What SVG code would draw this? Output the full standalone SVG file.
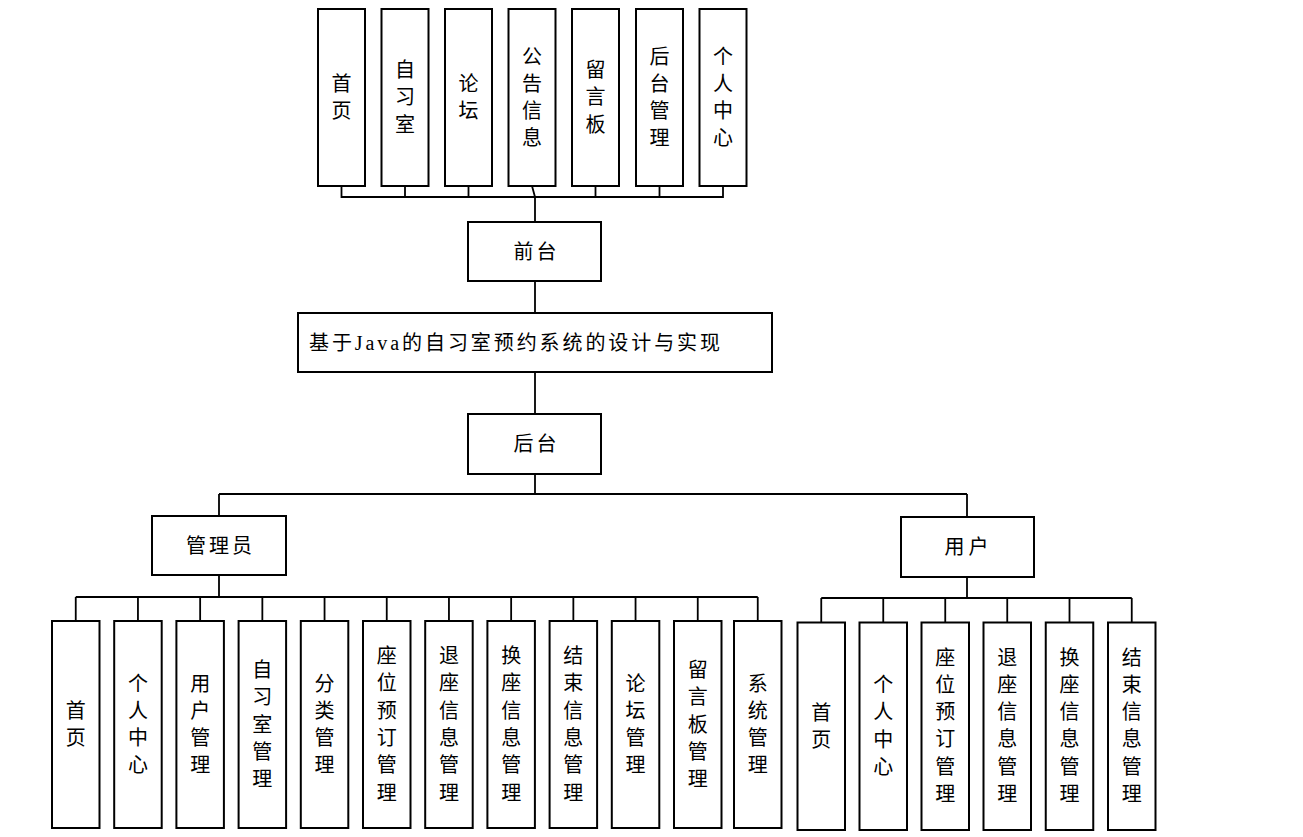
<svg xmlns="http://www.w3.org/2000/svg" width="1303" height="837" viewBox="0 0 1303 837">
<style>
rect{fill:#fff;stroke:#000;stroke-width:2}
.c line,.c polyline,.c path{stroke:#000;stroke-width:1.8;fill:none}
text{font-family:"Liberation Serif","Noto Sans CJK SC",serif;font-size:20px;fill:#000}
.v{text-anchor:middle}
.h{text-anchor:middle;letter-spacing:3px}
</style>
<rect width="1303" height="837" style="fill:#fff;stroke:none"/>
<g class="c" id="connectors">
<path d="M341.5,186V197H723V186M405,186V197M468.5,186V197M532,186L535,197M595.5,186V197M659.5,186V197M535,197V222"/>
<path d="M535,281V313M535,372V414M535,474V494M219,494H967M219,494V516M967,494V517"/>
<path d="M219,575V597M75.75,597H757.75M75.75,597V621M137.95,597V621M200.15,597V621M262.35,597V621M324.55,597V621M386.75,597V621M448.95,597V621M511.15,597V621M573.35,597V621M635.55,597V621M697.75,597V621M757.75,597V621"/>
<path d="M967,577V598M821.25,598H1131.75M821.25,598V622.5M883.25,598V622.5M945.25,598V622.5M1007.25,598V622.5M1069.5,598V622.5M1131.75,598V622.5"/>
</g>
<g id="top-1"><rect x="318" y="9" width="47" height="177"/><text class="v" x="341.5" y="91"><tspan x="341.5">首</tspan><tspan x="341.5" dy="27.3">页</tspan></text></g>
<g id="top-2"><rect x="381.5" y="9" width="47" height="177"/><text class="v" x="405" y="77"><tspan x="405">自</tspan><tspan x="405" dy="27.3">习</tspan><tspan x="405" dy="27.3">室</tspan></text></g>
<g id="top-3"><rect x="445" y="9" width="47" height="177"/><text class="v" x="468.5" y="91"><tspan x="468.5">论</tspan><tspan x="468.5" dy="27.3">坛</tspan></text></g>
<g id="top-4"><rect x="508.5" y="9" width="47" height="177"/><text class="v" x="532" y="63.5"><tspan x="532">公</tspan><tspan x="532" dy="27.3">告</tspan><tspan x="532" dy="27.3">信</tspan><tspan x="532" dy="27.3">息</tspan></text></g>
<g id="top-5"><rect x="572" y="9" width="47" height="177"/><text class="v" x="595.5" y="77"><tspan x="595.5">留</tspan><tspan x="595.5" dy="27.3">言</tspan><tspan x="595.5" dy="27.3">板</tspan></text></g>
<g id="top-6"><rect x="636" y="9" width="47" height="177"/><text class="v" x="659.5" y="63.5"><tspan x="659.5">后</tspan><tspan x="659.5" dy="27.3">台</tspan><tspan x="659.5" dy="27.3">管</tspan><tspan x="659.5" dy="27.3">理</tspan></text></g>
<g id="top-7"><rect x="699.5" y="9" width="47" height="177"/><text class="v" x="723" y="63.5"><tspan x="723">个</tspan><tspan x="723" dy="27.3">人</tspan><tspan x="723" dy="27.3">中</tspan><tspan x="723" dy="27.3">心</tspan></text></g>
<g id="qiantai"><rect x="468" y="222" width="133" height="59"/><text class="h" x="536.5" y="258.5">前台</text></g>
<g id="title"><rect x="298" y="313" width="474" height="59"/><text x="309" y="350" textLength="411">基于Java的自习室预约系统的设计与实现</text></g>
<g id="houtai"><rect x="468" y="414" width="133" height="60"/><text class="h" x="536.5" y="451">后台</text></g>
<g id="admin"><rect x="152" y="516" width="134" height="59"/><text class="h" x="220.5" y="552.5">管理员</text></g>
<g id="user"><rect x="901" y="517" width="133" height="60"/><text class="h" x="968.5" y="554" style="letter-spacing:4px">用户</text></g>
<g id="a1"><rect x="52" y="621" width="47.5" height="207"/><text class="v" y="718"><tspan x="75.75">首</tspan><tspan x="75.75" dy="27.3">页</tspan></text></g>
<g id="a2"><rect x="114.2" y="621" width="47.5" height="207"/><text class="v" y="690.5"><tspan x="137.95">个</tspan><tspan x="137.95" dy="27.3">人</tspan><tspan x="137.95" dy="27.3">中</tspan><tspan x="137.95" dy="27.3">心</tspan></text></g>
<g id="a3"><rect x="176.4" y="621" width="47.5" height="207"/><text class="v" y="690.5"><tspan x="200.15">用</tspan><tspan x="200.15" dy="27.3">户</tspan><tspan x="200.15" dy="27.3">管</tspan><tspan x="200.15" dy="27.3">理</tspan></text></g>
<g id="a4"><rect x="238.6" y="621" width="47.5" height="207"/><text class="v" y="677"><tspan x="262.35">自</tspan><tspan x="262.35" dy="27.3">习</tspan><tspan x="262.35" dy="27.3">室</tspan><tspan x="262.35" dy="27.3">管</tspan><tspan x="262.35" dy="27.3">理</tspan></text></g>
<g id="a5"><rect x="300.8" y="621" width="47.5" height="207"/><text class="v" y="690.5"><tspan x="324.55">分</tspan><tspan x="324.55" dy="27.3">类</tspan><tspan x="324.55" dy="27.3">管</tspan><tspan x="324.55" dy="27.3">理</tspan></text></g>
<g id="a6"><rect x="363" y="621" width="47.5" height="207"/><text class="v" y="663"><tspan x="386.75">座</tspan><tspan x="386.75" dy="27.3">位</tspan><tspan x="386.75" dy="27.3">预</tspan><tspan x="386.75" dy="27.3">订</tspan><tspan x="386.75" dy="27.3">管</tspan><tspan x="386.75" dy="27.3">理</tspan></text></g>
<g id="a7"><rect x="425.2" y="621" width="47.5" height="207"/><text class="v" y="663"><tspan x="448.95">退</tspan><tspan x="448.95" dy="27.3">座</tspan><tspan x="448.95" dy="27.3">信</tspan><tspan x="448.95" dy="27.3">息</tspan><tspan x="448.95" dy="27.3">管</tspan><tspan x="448.95" dy="27.3">理</tspan></text></g>
<g id="a8"><rect x="487.4" y="621" width="47.5" height="207"/><text class="v" y="663"><tspan x="511.15">换</tspan><tspan x="511.15" dy="27.3">座</tspan><tspan x="511.15" dy="27.3">信</tspan><tspan x="511.15" dy="27.3">息</tspan><tspan x="511.15" dy="27.3">管</tspan><tspan x="511.15" dy="27.3">理</tspan></text></g>
<g id="a9"><rect x="549.6" y="621" width="47.5" height="207"/><text class="v" y="663"><tspan x="573.35">结</tspan><tspan x="573.35" dy="27.3">束</tspan><tspan x="573.35" dy="27.3">信</tspan><tspan x="573.35" dy="27.3">息</tspan><tspan x="573.35" dy="27.3">管</tspan><tspan x="573.35" dy="27.3">理</tspan></text></g>
<g id="a10"><rect x="611.8" y="621" width="47.5" height="207"/><text class="v" y="690.5"><tspan x="635.55">论</tspan><tspan x="635.55" dy="27.3">坛</tspan><tspan x="635.55" dy="27.3">管</tspan><tspan x="635.55" dy="27.3">理</tspan></text></g>
<g id="a11"><rect x="674" y="621" width="47.5" height="207"/><text class="v" y="677"><tspan x="697.75">留</tspan><tspan x="697.75" dy="27.3">言</tspan><tspan x="697.75" dy="27.3">板</tspan><tspan x="697.75" dy="27.3">管</tspan><tspan x="697.75" dy="27.3">理</tspan></text></g>
<g id="a12"><rect x="734" y="621" width="47.5" height="207"/><text class="v" y="690.5"><tspan x="757.75">系</tspan><tspan x="757.75" dy="27.3">统</tspan><tspan x="757.75" dy="27.3">管</tspan><tspan x="757.75" dy="27.3">理</tspan></text></g>
<g id="u1"><rect x="797.5" y="622.5" width="47.5" height="207.5"/><text class="v" y="719.5"><tspan x="821.25">首</tspan><tspan x="821.25" dy="27.3">页</tspan></text></g>
<g id="u2"><rect x="859.5" y="622.5" width="47.5" height="207.5"/><text class="v" y="692"><tspan x="883.25">个</tspan><tspan x="883.25" dy="27.3">人</tspan><tspan x="883.25" dy="27.3">中</tspan><tspan x="883.25" dy="27.3">心</tspan></text></g>
<g id="u3"><rect x="921.5" y="622.5" width="47.5" height="207.5"/><text class="v" y="664.5"><tspan x="945.25">座</tspan><tspan x="945.25" dy="27.3">位</tspan><tspan x="945.25" dy="27.3">预</tspan><tspan x="945.25" dy="27.3">订</tspan><tspan x="945.25" dy="27.3">管</tspan><tspan x="945.25" dy="27.3">理</tspan></text></g>
<g id="u4"><rect x="983.5" y="622.5" width="47.5" height="207.5"/><text class="v" y="664.5"><tspan x="1007.25">退</tspan><tspan x="1007.25" dy="27.3">座</tspan><tspan x="1007.25" dy="27.3">信</tspan><tspan x="1007.25" dy="27.3">息</tspan><tspan x="1007.25" dy="27.3">管</tspan><tspan x="1007.25" dy="27.3">理</tspan></text></g>
<g id="u5"><rect x="1045.75" y="622.5" width="47.5" height="207.5"/><text class="v" y="664.5"><tspan x="1069.5">换</tspan><tspan x="1069.5" dy="27.3">座</tspan><tspan x="1069.5" dy="27.3">信</tspan><tspan x="1069.5" dy="27.3">息</tspan><tspan x="1069.5" dy="27.3">管</tspan><tspan x="1069.5" dy="27.3">理</tspan></text></g>
<g id="u6"><rect x="1108" y="622.5" width="47.5" height="207.5"/><text class="v" y="664.5"><tspan x="1131.75">结</tspan><tspan x="1131.75" dy="27.3">束</tspan><tspan x="1131.75" dy="27.3">信</tspan><tspan x="1131.75" dy="27.3">息</tspan><tspan x="1131.75" dy="27.3">管</tspan><tspan x="1131.75" dy="27.3">理</tspan></text></g>
</svg>
